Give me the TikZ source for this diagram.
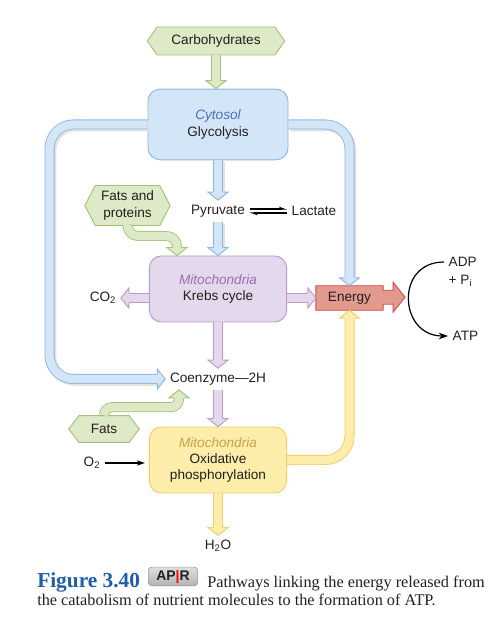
\documentclass[tikz,border=0pt]{standalone}
\usepackage{fontspec}
\setmainfont{Liberation Sans}
\newfontfamily\capfont{Liberation Serif}
\usetikzlibrary{shapes.symbols, arrows.meta, calc}

\definecolor{greenfill}{HTML}{DDE9C7}
\definecolor{greenline}{HTML}{A3C277}
\definecolor{bluefill}{HTML}{D3E6F8}
\definecolor{blueline}{HTML}{8DB5E2}
\definecolor{bluetext}{HTML}{4A6FB5}
\definecolor{purplefill}{HTML}{E4D8EC}
\definecolor{purpleline}{HTML}{B99BCB}
\definecolor{purpletext}{HTML}{9B6DB2}
\definecolor{yellowfill}{HTML}{FCEDAA}
\definecolor{yellowline}{HTML}{F4CD66}
\definecolor{yellowtext}{HTML}{C8A24A}
\definecolor{redfill}{HTML}{E39A8E}
\definecolor{redline}{HTML}{D44A4C}
\definecolor{capblue}{HTML}{1F5EA8}
\definecolor{inktext}{HTML}{231F20}

\pgfdeclarelayer{background}
\pgfsetlayers{background,main}

% head of a wide block arrow: colour set, tip, direction
\newcommand{\pipehead}[3]{%
    \fill[#1fill, shift={(#2)}, rotate=#3] (-8,5) -- (-8,10) -- (0,0) -- (-8,-10) -- (-8,-5) -- cycle;
    \draw[#1line, line width=0.7pt, shift={(#2)}, rotate=#3] (-8,5) -- (-8,10) -- (0,0) -- (-8,-10) -- (-8,-5);
}

\begin{document}
\begin{tikzpicture}[
    x=0.75pt, y=0.75pt,
    every node/.style={font=\fontsize{10.2}{12.2}\selectfont, text=inktext},
    box/.style={
        draw,
        rounded corners=9pt,
        align=center,
        line width=0.7pt,
        minimum width=103pt,
        minimum height=49.5pt
    },
    hexa/.style={shape=signal, signal to=west and east, draw=greenline, fill=greenfill, line width=0.7pt, align=center, inner xsep=2pt},
    pipe/.style={line width=6.2pt, draw=#1fill, preaction={draw=#1line, line width=7.5pt}, shorten >=5.5pt},
    shadowed/.style={preaction={draw=black!11, line width=7.5pt, shorten >=5.5pt, transform canvas={shift={(1.4pt,-1.4pt)}}}},
    badge/.style={rounded corners=2.5pt, top color=gray!25, bottom color=gray!60, draw=gray!75, line width=0.5pt,
        font=\bfseries\fontsize{10.5}{10.5}\selectfont, minimum width=37pt, minimum height=14pt, inner sep=1pt},
    captext/.style={anchor=base west, inner sep=0pt, font=\capfont\fontsize{12.2}{14}\selectfont}
]
\useasboundingbox (0,0) rectangle (501,625);

% sources and compartments
\node[hexa, minimum width=103pt, minimum height=21pt, signal pointer angle=110] (carb) at (216,584) {Carbohydrates};
\node[box, draw=blueline, fill=bluefill, minimum width=105pt, minimum height=53pt] (cyto) at (218,500.5)
    {{\color{bluetext}\itshape Cytosol}\\Glycolysis};
\node (pyr) at (218,414) {Pyruvate};
\node (lac) at (314,414) {Lactate};
\node[hexa, minimum width=64pt, minimum height=30pt, signal pointer angle=125] (fp) at (127.5,419.5) {Fats and\\proteins};
\node[box, draw=purpleline, fill=purplefill] (krebs) at (218,336)
    {{\color{purpletext}\itshape Mitochondria}\\Krebs cycle};
\node (co2) at (103,327) {CO\textsubscript{2}};
\node[minimum width=50pt, minimum height=18pt] (energy) at (349.5,327) {Energy};
\node[anchor=west] (adp) at (444,363) {ADP};
\node[anchor=west] (pin) at (444,344) {+ P\textsubscript{i}};
\node[anchor=west] (atp) at (448,289) {ATP};
\node (coenz) at (218,246) {Coenzyme—2H};
\node[hexa, minimum width=53pt, minimum height=20pt, signal pointer angle=105] (fats) at (104,196) {Fats};
\node[box, draw=yellowline, fill=yellowfill] (oxphos) at (218,165)
    {{\color{yellowtext}\itshape Mitochondria}\\Oxidative\\phosphorylation};
\node (o2) at (92,162) {O\textsubscript{2}};
\node (h2o) at (218,79) {H\textsubscript{2}O};

\begin{pgfonlayer}{background}
\draw[draw=redline, fill=redfill, line width=0.7pt] (energy.north west) -- (energy.north east) -- ++(0,-4.5) -- ++(10,0)
    -- ++(0,8) -- ++(12,-15) -- ++(-12,-15) -- ++(0,8) -- ++(-10,0) -- (energy.south east) -- (energy.south west) -- cycle;
\end{pgfonlayer}

% glycolysis
\draw[pipe=green] (carb.south) -- (carb.south |- cyto.north);
\pipehead{green}{carb.south |- cyto.north}{-90}
\draw[shadowed, pipe=blue] (cyto.south) -- (pyr.north);
\pipehead{blue}{pyr.north}{-90}
\draw[shadowed, pipe=blue] (pyr.south) -- (krebs.north);
\pipehead{blue}{krebs.north}{-90}
\draw[shadowed, pipe=blue, rounded corners=18pt] (cyto.west) -- ++(-98,0) |- (coenz.west);
\pipehead{blue}{coenz.west}{0}
\draw[shadowed, pipe=blue, rounded corners=18pt] (cyto.east) -| (energy.north);
\pipehead{blue}{energy.north}{-90}
\draw[-{Stealth[harpoon,length=5pt,width=3.5pt]}, line width=0.8pt] ([yshift=1.5pt]pyr.east) -- ([yshift=1.5pt]lac.west);
\draw[-{Stealth[harpoon,length=5pt,width=3.5pt]}, line width=0.8pt] ([yshift=-1.5pt]lac.west) -- ([yshift=-1.5pt]pyr.east);

% Krebs cycle
\draw[pipe=green, rounded corners=8pt] (fp.south) -- ++(0,-10) -| ($(krebs.north)+(-41,0)$);
\pipehead{green}{$(krebs.north)+(-41,0)$}{-90}
\draw[pipe=purple] (krebs.west |- co2.east) -- (co2.east);
\pipehead{purple}{co2.east}{180}
\draw[pipe=purple] (krebs.east |- energy.west) -- (energy.west);
\pipehead{purple}{energy.west}{0}
\draw[pipe=purple] (krebs.south) -- (coenz.north);
\pipehead{purple}{coenz.north}{-90}

% oxidative phosphorylation
\draw[pipe=green, rounded corners=6pt] (fats.north) -- ++(0,8) -| ($(coenz.south)+(-39,0)$);
\pipehead{green}{$(coenz.south)+(-39,0)$}{90}
\draw[pipe=purple] (coenz.south) -- (oxphos.north);
\pipehead{purple}{oxphos.north}{-90}
\draw[-{Stealth[length=6pt,width=4pt]}, line width=0.8pt, shorten >=3pt] (o2.east) -- (o2.east -| oxphos.west);
\draw[pipe=yellow, rounded corners=18pt] (oxphos.east) -| (energy.south);
\pipehead{yellow}{energy.south}{90}
\draw[pipe=yellow] (oxphos.south) -- (h2o.north);
\pipehead{yellow}{h2o.north}{-90}

% ATP
\draw[-{Stealth[length=7pt,width=5pt]}, line width=0.9pt] (adp.west) to[out=180, in=180, looseness=1.7] (atp.west);

% caption
\node[anchor=base west, inner sep=0pt, font=\capfont\bfseries\fontsize{16}{18}\selectfont, text=capblue] (figno) at (37,37) {Figure 3.40};
\node[badge] (apr) at (173,48.5) {AP{\color{red}|}R};
\node[captext] (capa) at (207,37) {Pathways linking the energy released from};
\node[captext] (capb) at (37,19) {the catabolism of nutrient molecules to the formation of ATP.};
\end{tikzpicture}
\end{document}
